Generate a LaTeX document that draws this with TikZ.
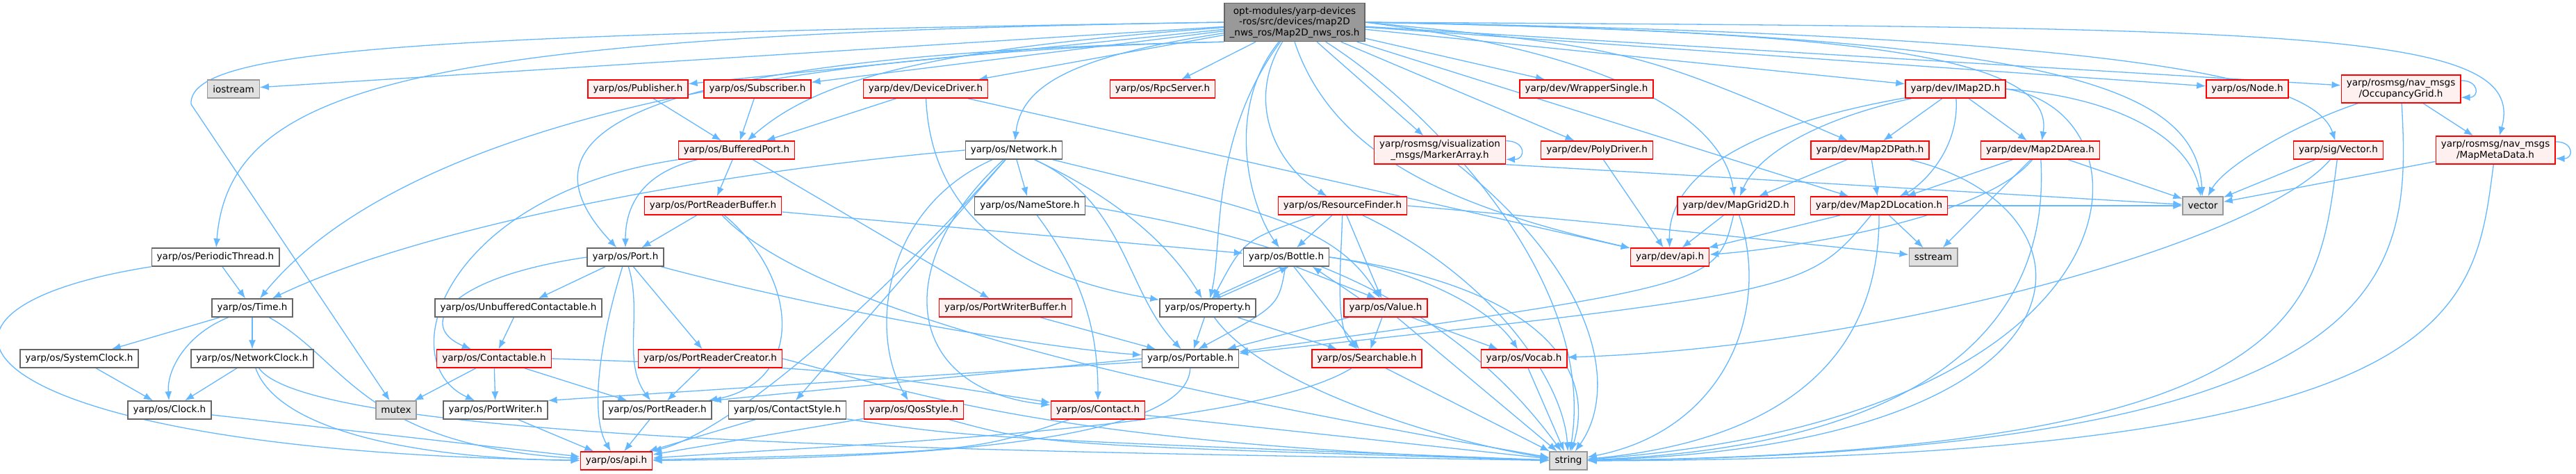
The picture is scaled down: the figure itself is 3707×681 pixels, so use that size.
\documentclass[tikz,border=0pt]{standalone}
\usepackage{fontspec}
\setmainfont{DejaVu Sans}
\usetikzlibrary{arrows.meta, backgrounds}
\definecolor{edgeBlue}{RGB}{99,184,255}
\definecolor{trRed}{RGB}{255,0,0}
\definecolor{trFill}{RGB}{255,240,240}
\definecolor{boxLine}{RGB}{102,102,102}
\definecolor{sysFill}{RGB}{224,224,224}
\definecolor{sysLine}{RGB}{153,153,153}
\definecolor{rootFill}{RGB}{153,153,153}
\tikzset{
  hdr/.style={rectangle, draw=boxLine, fill=white, line width=0.4pt,
    minimum height=0.26cm, inner xsep=0.075cm, inner ysep=0pt, align=center,
    font=\fontsize{3.85}{4.4}\selectfont},
  trunc/.style={hdr, draw=trRed, fill=trFill},
  trunc2/.style={trunc, minimum height=0.40cm},
  sys/.style={hdr, draw=sysLine, fill=sysFill},
  rootbox/.style={hdr, fill=rootFill, minimum height=0.55cm},
  dep/.style={-{Latex[length=1.3mm,width=1.0mm]}, draw=edgeBlue, line width=0.37pt},
}
\begin{document}
\begin{tikzpicture}[x=0.01cm, y=-0.01cm]
    \useasboundingbox (0,0) rectangle (3707,681);
    \node[rootbox] (root) at (1863,32) {opt-modules/yarp-devices\\-ros/src/devices/map2D\\\_nws\_ros/Map2D\_nws\_ros.h};
    % rank 1
    \node[sys] (iostream) at (336,128) {iostream};
    \node[trunc] (pub) at (918,128) {yarp/os/Publisher.h};
    \node[trunc] (sub) at (1090,128) {yarp/os/Subscriber.h};
    \node[trunc] (devdrv) at (1332,128) {yarp/dev/DeviceDriver.h};
    \node[trunc] (rpc) at (1673,128) {yarp/os/RpcServer.h};
    \node[trunc] (wrap) at (2283,128) {yarp/dev/WrapperSingle.h};
    \node[trunc] (imap) at (2814,128) {yarp/dev/IMap2D.h};
    \node[trunc] (rosnode) at (3234,128) {yarp/os/Node.h};
    \node[trunc2] (occ) at (3455,128) {yarp/rosmsg/nav\_msgs\\/OccupancyGrid.h};
    % rank 2
    \node[trunc] (buf) at (1060,216) {yarp/os/BufferedPort.h};
    \node[hdr] (net) at (1459,216) {yarp/os/Network.h};
    \node[trunc2] (marker) at (2072,216) {yarp/rosmsg/visualization\\\_msgs/MarkerArray.h};
    \node[trunc] (poly) at (2298,216) {yarp/dev/PolyDriver.h};
    \node[trunc] (mpath) at (2691,216) {yarp/dev/Map2DPath.h};
    \node[trunc] (marea) at (2936,216) {yarp/dev/Map2DArea.h};
    \node[trunc] (svec) at (3365,216) {yarp/sig/Vector.h};
    \node[trunc2] (meta) at (3591,216) {yarp/rosmsg/nav\_msgs\\/MapMetaData.h};
    % rank 3
    \node[trunc] (prb) at (1026,296) {yarp/os/PortReaderBuffer.h};
    \node[hdr] (names) at (1482,296) {yarp/os/NameStore.h};
    \node[trunc] (rf) at (1932,296) {yarp/os/ResourceFinder.h};
    \node[trunc] (grid) at (2498,296) {yarp/dev/MapGrid2D.h};
    \node[trunc] (mloc) at (2704,296) {yarp/dev/Map2DLocation.h};
    \node[sys] (vec) at (3170,296) {vector};
    % rank 4
    \node[hdr] (pthread) at (310,370) {yarp/os/PeriodicThread.h};
    \node[hdr] (port) at (900,370) {yarp/os/Port.h};
    \node[hdr] (bottle) at (1851,370) {yarp/os/Bottle.h};
    \node[trunc] (devapi) at (2403,370) {yarp/dev/api.h};
    \node[sys] (sstream) at (2782,370) {sstream};
    % rank 5
    \node[hdr] (time) at (363,443) {yarp/os/Time.h};
    \node[hdr] (ucont) at (746,443) {yarp/os/UnbufferedContactable.h};
    \node[trunc] (pwb) at (1447,443) {yarp/os/PortWriterBuffer.h};
    \node[hdr] (prop) at (1738,443) {yarp/os/Property.h};
    \node[trunc] (value) at (1994,443) {yarp/os/Value.h};
    % rank 6
    \node[hdr] (sysclk) at (114,516) {yarp/os/SystemClock.h};
    \node[hdr] (netclk) at (363,516) {yarp/os/NetworkClock.h};
    \node[trunc] (contable) at (711,516) {yarp/os/Contactable.h};
    \node[trunc] (prc) at (1022,516) {yarp/os/PortReaderCreator.h};
    \node[hdr] (portable) at (1713,516) {yarp/os/Portable.h};
    \node[trunc] (search) at (1967,516) {yarp/os/Searchable.h};
    \node[trunc] (vocab) at (2193,516) {yarp/os/Vocab.h};
    % rank 7
    \node[hdr] (clock) at (244,590) {yarp/os/Clock.h};
    \node[sys] (mutex) at (570,590) {mutex};
    \node[hdr] (pw) at (713,590) {yarp/os/PortWriter.h};
    \node[hdr] (pr) at (946,590) {yarp/os/PortReader.h};
    \node[hdr] (cstyle) at (1133,590) {yarp/os/ContactStyle.h};
    \node[trunc] (qos) at (1315,590) {yarp/os/QosStyle.h};
    \node[trunc] (contact) at (1580,590) {yarp/os/Contact.h};
    % rank 8
    \node[trunc] (osapi) at (887,663) {yarp/os/api.h};
    \node[sys] (strg) at (2257,663) {string};

    \begin{scope}[on background layer]
    \fill[white] (0,0) rectangle (3707,681);
    % from the root header
    \draw[dep] (root) -- (iostream);
    \draw[dep] (root) -- (pub);
    \draw[dep] (root) -- (sub);
    \draw[dep] (root) -- (devdrv);
    \draw[dep] (root) -- (rpc);
    \draw[dep] (root) -- (wrap);
    \draw[dep] (root) -- (imap);
    \draw[dep] (root) -- (rosnode);
    \draw[dep] (root) -- (occ);
    \draw[dep] (root.east) .. controls (3300,40) and (3640,40) .. (meta);
    \draw[dep] (root.east) .. controls (3050,50) and (3330,110) .. (svec);
    \draw[dep] (root.east) .. controls (2950,50) and (3160,120) .. (vec);
    \draw[dep] (root.east) .. controls (2600,45) and (2960,70) .. (marea);
    \draw[dep] (root.east) .. controls (2350,70) .. (mpath);
    \draw[dep] (root) -- (mloc);
    \draw[dep] (root.east) .. controls (2350,80) and (2480,180) .. (grid);
    \draw[dep] (root) -- (poly);
    \draw[dep] (root) -- (marker);
    \draw[dep] (root.south) .. controls (1920,230) and (2100,300) .. (devapi);
    \draw[dep] (root) .. controls (2050,150) and (2300,400) .. (strg);
    \draw[dep] (root) .. controls (1790,150) and (1840,240) .. (rf);
    \draw[dep] (root) .. controls (1760,160) and (1800,300) .. (bottle);
    \draw[dep] (root) .. controls (1740,200) and (1760,350) .. (prop);
    \draw[dep] (root) .. controls (1550,80) and (1470,120) .. (net);
    \draw[dep] (root) .. controls (1350,70) and (1180,110) .. (buf);
    \draw[dep] (root.south west) .. controls (800,80) and (760,220) .. (port);
    \draw[dep] (root.west) .. controls (600,50) and (330,120) .. (pthread);
    \draw[dep] (root.south west) .. controls (900,80) and (520,250) .. (time);
    \draw[dep] (root.west) .. controls (600,50) and (270,70) .. (275,150) -- (mutex);
    % second level
    \draw[dep] (pub) -- (buf);
    \draw[dep] (sub) -- (buf);
    \draw[dep] (devdrv) -- (buf);
    \draw[dep] (devdrv) .. controls (1340,320) and (1480,400) .. (prop);
    \draw[dep] (devdrv) -- (devapi);
    \draw[dep] (buf) .. controls (920,250) and (900,300) .. (port);
    \draw[dep] (buf) -- (prb);
    \draw[dep] (buf) -- (pwb);
    \draw[dep] (buf.south west) .. controls (640,280) and (560,520) .. (pw);
    \draw[dep] (prb) -- (port);
    \draw[dep] (prb) .. controls (1150,400) and (1160,550) .. (pr);
    \draw[dep] (prb) -- (bottle);
    \draw[dep] (prb) .. controls (1200,480) and (1900,600) .. (strg);
    \draw[dep] (net.west) .. controls (1000,250) and (600,330) .. (time);
    \draw[dep] (net) -- (names);
    \draw[dep] (net) .. controls (1250,450) and (1050,620) .. (osapi);
    \draw[dep] (net) -- (cstyle);
    \draw[dep] (net) .. controls (1270,300) and (1250,480) .. (qos);
    \draw[dep] (net) .. controls (1280,380) and (1300,560) .. (contact);
    \draw[dep] (net) .. controls (1620,290) and (1620,420) .. (portable);
    \draw[dep] (net) .. controls (1640,300) and (1700,380) .. (prop);
    \draw[dep] (net) .. controls (1800,300) and (1920,320) .. (value);
    \draw[dep] (names) .. controls (1560,400) and (1580,480) .. (contact);
    \draw[dep] (names.east) .. controls (1750,330) and (2050,380) .. (strg);
    \draw[dep] (marker.8) to[out=0,in=0,looseness=2.8] (marker.-8);
    \draw[dep] (marker) .. controls (2300,400) and (2330,560) .. (strg);
    \draw[dep] (marker.south east) -- (vec);
    \draw[dep] (poly) -- (devapi);
    \draw[dep] (imap) -- (mpath);
    \draw[dep] (imap) -- (marea);
    \draw[dep] (imap) .. controls (2620,170) and (2530,220) .. (grid);
    \draw[dep] (imap) .. controls (2820,220) and (2760,270) .. (mloc);
    \draw[dep] (imap) .. controls (2520,180) and (2400,250) .. (devapi);
    \draw[dep] (imap.east) .. controls (3050,140) and (3150,200) .. (vec);
    \draw[dep] (imap.east) .. controls (3110,160) and (3100,600) .. (strg);
    \draw[dep] (occ.8) to[out=0,in=0,looseness=2.8] (occ.-8);
    \draw[dep] (occ) -- (meta);
    \draw[dep] (occ) .. controls (3300,180) and (3200,240) .. (vec);
    \draw[dep] (occ) .. controls (3470,400) and (3460,650) .. (strg);
    \draw[dep] (meta.8) to[out=0,in=0,looseness=2.8] (meta.-8);
    \draw[dep] (meta) -- (vec);
    \draw[dep] (meta) .. controls (3560,450) and (3550,660) .. (strg);
    \draw[dep] (svec) -- (vec);
    \draw[dep] (svec) .. controls (3335,450) and (3320,650) .. (strg);
    \draw[dep] (svec) .. controls (3250,350) and (2700,500) .. (vocab);
    \draw[dep] (mpath) -- (grid);
    \draw[dep] (mpath) -- (mloc);
    \draw[dep] (mpath) .. controls (3040,300) and (3040,640) .. (strg);
    \draw[dep] (marea) -- (mloc);
    \draw[dep] (marea) .. controls (2850,320) and (2550,360) .. (devapi);
    \draw[dep] (marea) -- (sstream);
    \draw[dep] (marea) -- (vec);
    \draw[dep] (marea) .. controls (2950,450) and (2800,640) .. (strg);
    \draw[dep] (grid) -- (devapi);
    \draw[dep] (grid) .. controls (2550,450) and (2480,620) .. (strg);
    \draw[dep] (grid) .. controls (2470,410) .. (portable);
    \draw[dep] (mloc) -- (devapi);
    \draw[dep] (mloc) -- (sstream);
    \draw[dep] (mloc) -- (vec);
    \draw[dep] (mloc) .. controls (2705,560) and (2500,640) .. (strg);
    \draw[dep] (mloc) .. controls (2600,420) .. (portable);
    \draw[dep] (rf) -- (bottle);
    \draw[dep] (rf) .. controls (1790,345) .. (prop);
    \draw[dep] (rf) .. controls (1930,380) and (1920,470) .. (search);
    \draw[dep] (rf) -- (value);
    \draw[dep] (rf) .. controls (2150,400) and (2250,550) .. (strg);
    \draw[dep] (rf.east) .. controls (2300,320) .. (sstream);
    % lower levels
    \draw[dep] (pthread) -- (time);
    \draw[dep] (pthread.south west) .. controls (-200,450) and (-40,650) .. (osapi);
    \draw[dep] (port) -- (ucont);
    \draw[dep] (port.west) .. controls (640,400) and (600,470) .. (contable);
    \draw[dep] (port) .. controls (860,500) and (850,600) .. (osapi);
    \draw[dep] (port) .. controls (925,450) and (895,520) .. (pr);
    \draw[dep] (port) -- (prc);
    \draw[dep] (port) .. controls (1200,450) and (1500,500) .. (portable);
    \draw[dep] (bottle.-120) -- (prop.70);
    \draw[dep] (prop.45) -- (bottle.-75);
    \draw[dep] (bottle.-45) -- (value.135);
    \draw[dep] (value.160) -- (bottle.-20);
    \draw[dep] (bottle.-95) .. controls (1840,440) .. (portable.50);
    \draw[dep] (bottle) -- (search);
    \draw[dep] (bottle.east) .. controls (2050,390) and (2150,450) .. (vocab);
    \draw[dep] (bottle.east) .. controls (2200,410) and (2300,520) .. (strg);
    \draw[dep] (time) -- (sysclk);
    \draw[dep] (time) -- (netclk);
    \draw[dep] (time) .. controls (270,480) and (240,530) .. (clock);
    \draw[dep] (time) .. controls (500,520) and (520,640) .. (osapi);
    \draw[dep] (ucont) -- (contable);
    \draw[dep] (pwb) -- (portable);
    \draw[dep] (prop) -- (portable);
    \draw[dep] (prop) -- (search);
    \draw[dep] (prop) .. controls (1820,560) and (2100,640) .. (strg);
    \draw[dep] (value) -- (search);
    \draw[dep] (value) -- (vocab);
    \draw[dep] (value) -- (strg);
    \draw[dep] (value) -- (portable);
    \draw[dep] (sysclk) -- (clock);
    \draw[dep] (netclk) -- (clock);
    \draw[dep] (netclk) .. controls (400,620) and (600,660) .. (osapi);
    \draw[dep] (netclk) .. controls (450,640) and (1500,650) .. (strg);
    \draw[dep] (contable) -- (mutex);
    \draw[dep] (contable) -- (pw);
    \draw[dep] (contable) -- (pr);
    \draw[dep] (contable.east) .. controls (1200,530) .. (contact);
    \draw[dep] (prc) -- (pr);
    \draw[dep] (prc.east) .. controls (1300,560) and (1500,640) .. (strg);
    \draw[dep] (portable) .. controls (1710,650) and (1200,660) .. (osapi);
    \draw[dep] (portable) -- (pw.north east);
    \draw[dep] (portable.west) -- (pr.north east);
    \draw[dep] (search) -- (strg);
    \draw[dep] (search) .. controls (1800,620) and (1200,640) .. (osapi);
    \draw[dep] (vocab) -- (strg);
    \draw[dep] (clock) -- (osapi);
    \draw[dep] (pw) -- (osapi);
    \draw[dep] (pr) -- (osapi);
    \draw[dep] (cstyle) -- (osapi);
    \draw[dep] (cstyle) .. controls (1400,630) .. (strg);
    \draw[dep] (qos) -- (osapi);
    \draw[dep] (qos) .. controls (1500,640) .. (strg);
    \draw[dep] (contact) .. controls (1400,650) .. (osapi);
    \draw[dep] (contact) -- (strg);
    \end{scope}
\end{tikzpicture}
\end{document}
